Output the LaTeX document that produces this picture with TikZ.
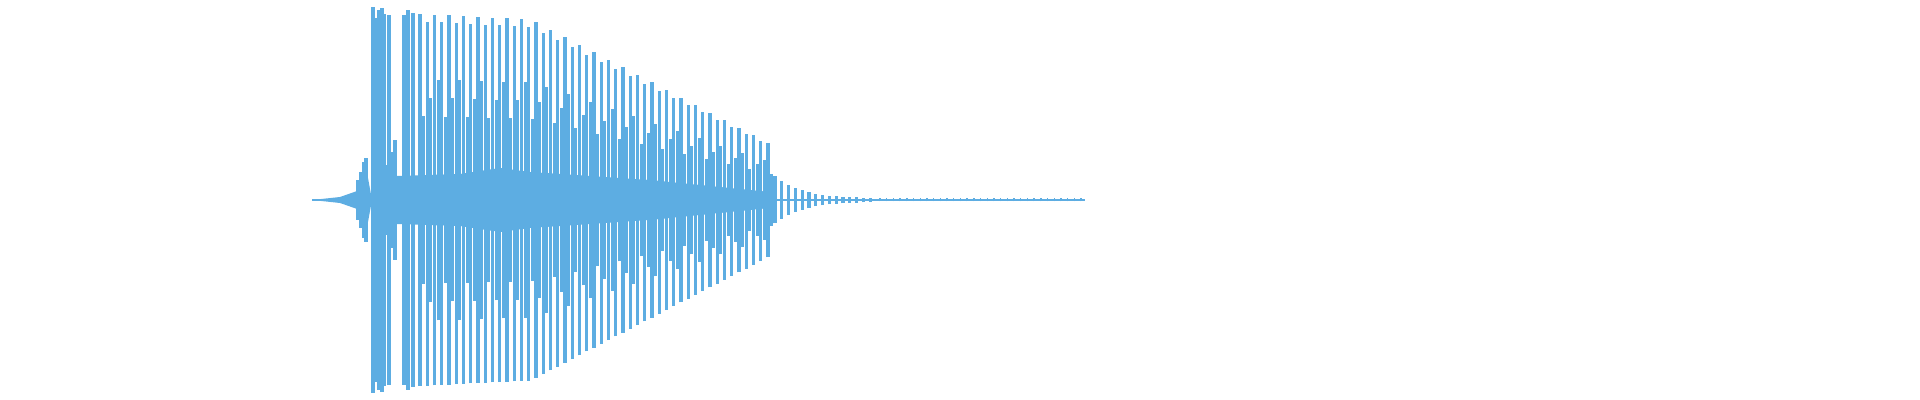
\documentclass[tikz,border=0pt]{standalone}
\definecolor{wave}{HTML}{5DADE2}
\begin{document}
\begin{tikzpicture}[x=0.01cm,y=0.01cm]
    % Stili
    \tikzset{spike/.style={draw=wave, line width=0.9pt},
             thin/.style={draw=wave, line width=0.4pt}}
    \useasboundingbox (0,0) rectangle (1920,400);

    % Linea di base
    \draw[thin] (312,200) -- (1085,200);

    % Attacco iniziale
    \fill[wave] (312,200) -- (340,203) -- (360,210) -- (368,222) -- (372,200)
        -- (368,178) -- (360,190) -- (340,197) -- cycle;
    \foreach \x/\a in {358/20,361/28,364/38,366/42,388/35,392/48,395/60} {
        \draw[spike] (\x,200-\a) -- (\x,200+\a);
    }

    % Picchi principali
    \foreach \x/\a in {373/193,376/182,379/190,382/192,384/186,389/185,
                       404/185,408/190,413/187} {
        \draw[spike] (\x,200-\a) -- (\x,200+\a);
    }

    % Fascia centrale
    \fill[wave] (395,224) -- (460,226) -- (500,232) -- (530,228) -- (650,220) -- (770,208)
        -- (770,192) -- (650,180) -- (530,172) -- (500,168) -- (460,174) -- (395,176) -- cycle;

    % Treno di picchi regolari
    \foreach \i in {0,...,48} {
        \pgfmathsetmacro\x{420+7.25*\i}
        \pgfmathsetmacro\a{\x<530 ? 186-0.05*(\x-420) : 181-(\x-530)*0.52}
        \pgfmathsetmacro\b{\a*(1-0.04*mod(\i,2))}
        \pgfmathsetmacro\c{\a*(0.45+0.1*mod(\i,3))}
        \draw[spike] (\x,200-\a) -- (\x,200+\b);
        \draw[spike] (\x+3.6,200-\c) -- (\x+3.6,200+\c);
    }

    % Coda smorzata
    \foreach \i in {0,...,14} {
        \pgfmathsetmacro\x{775+6.8*\i}
        \pgfmathsetmacro\a{22*exp(-0.25*\i)+1.5}
        \draw[spike] (\x,200-\a) -- (\x,200+\a);
    }
    \foreach \i in {0,...,30} {
        \pgfmathsetmacro\x{880+6.7*\i}
        \draw[thin] (\x,198.5) -- (\x,201.5);
    }
\end{tikzpicture}
\end{document}
